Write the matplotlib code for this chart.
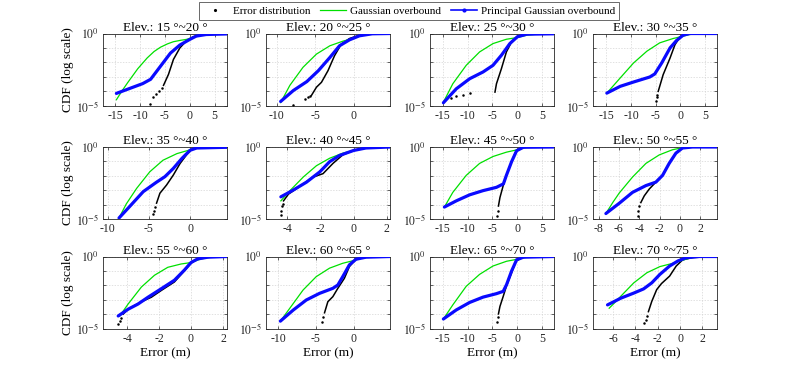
import matplotlib
matplotlib.use("Agg")
import matplotlib.pyplot as plt
import numpy as np
from matplotlib.lines import Line2D
from matplotlib.ticker import NullLocator

plt.rcParams["font.family"] = ["Liberation Serif", "DejaVu Serif"]
plt.rcParams["mathtext.fontset"] = "stix"
plt.rcParams["axes.unicode_minus"] = False

# elevation bins, one panel each
titles = ["Elev.: 15 °~20 °", "Elev.: 20 °~25 °", "Elev.: 25 °~30 °", "Elev.: 30 °~35 °",
          "Elev.: 35 °~40 °", "Elev.: 40 °~45 °", "Elev.: 45 °~50 °", "Elev.: 50 °~55 °",
          "Elev.: 55 °~60 °", "Elev.: 60 °~65 °", "Elev.: 65 °~70 °", "Elev.: 70 °~75 °"]

x_limits = [(-17.5, 7.5), (-11.4, 4.7), (-17.6, 7.4), (-17.7, 7.4),
            (-10.6, 4.5), (-5.3, 2.2), (-17.6, 7.4), (-8.55, 3.66),
            (-5.5, 2.25), (-11.6, 4.8), (-17.6, 7.4), (-7.8, 3.3)]

x_ticks = [[-15, -10, -5, 0, 5], [-10, -5, 0], [-15, -10, -5, 0, 5], [-15, -10, -5, 0, 5],
           [-10, -5, 0], [-4, -2, 0, 2], [-15, -10, -5, 0, 5], [-8, -6, -4, -2, 0, 2],
           [-4, -2, 0, 2], [-10, -5, 0], [-15, -10, -5, 0, 5], [-6, -4, -2, 0, 2]]

# principal Gaussian overbound (x in m, y = log10 CDF)
pgo_x = [
    [-14.8, -9.5, -7.9, -5.9, -3.9, -2.0, 0.0, 1.3, 3.3, 7.5],
    [-9.5, -7.85, -6.1, -4.6, -3.1, -1.85, -0.56, 0.73, 2.4, 4.7],
    [-14.9, -12.3, -9.6, -6.9, -4.9, -3.2, -1.5, 0.0, 1.9, 7.4],
    [-14.9, -12.2, -9.5, -6.2, -5.2, -3.8, -2.1, -0.8, 0.54, 1.9, 7.4],
    [-8.65, -7.35, -5.7, -4.1, -3.06, -2.04, -1.0, 0.0, 0.8, 4.5],
    [-4.4, -3.65, -2.85, -2.05, -1.45, -0.86, 0.0, 0.74, 2.2],
    [-14.7, -12.3, -9.6, -6.9, -4.2, -2.8, -2.2, -1.15, -0.14, 1.2, 7.4],
    [-7.28, -5.97, -4.66, -3.34, -2.36, -1.7, -1.05, -0.39, 0.26, 1.25, 3.66],
    [-4.55, -3.93, -3.31, -2.69, -1.86, -1.04, -0.41, 0.0, 0.41, 1.04, 2.25],
    [-9.7, -8.0, -6.27, -4.52, -2.76, -2.1, -1.45, -0.57, 0.3, 1.6, 4.8],
    [-14.9, -12.3, -9.6, -6.9, -4.2, -2.84, -2.16, -1.15, -0.14, 1.2, 7.4],
    [-6.5, -5.3, -4.15, -3.27, -2.54, -1.81, -0.94, -0.2, 0.53, 1.7, 3.3],
]
pgo_y = [
    [-4.16, -3.48, -3.18, -2.27, -1.36, -0.8, -0.41, -0.18, -0.07, -0.03],
    [-4.72, -3.96, -3.34, -2.58, -1.66, -0.85, -0.44, -0.16, -0.02, 0.0],
    [-4.81, -3.84, -3.14, -2.67, -2.21, -1.51, -0.70, -0.23, -0.05, -0.02],
    [-4.14, -3.67, -3.37, -3.02, -2.81, -2.05, -1.0, -0.49, -0.12, 0.0, 0.0],
    [-4.93, -4.13, -3.10, -2.45, -2.06, -1.49, -0.80, -0.23, -0.07, -0.02],
    [-3.46, -2.99, -2.44, -1.73, -1.02, -0.59, -0.24, -0.07, 0.0],
    [-4.17, -3.74, -3.32, -3.03, -2.80, -2.56, -1.97, -1.02, -0.26, -0.02, 0.0],
    [-4.62, -3.91, -3.15, -2.68, -2.44, -1.97, -1.14, -0.43, -0.07, 0.0, 0.0],
    [-4.13, -3.66, -3.30, -2.83, -2.24, -1.65, -0.94, -0.42, -0.17, -0.05, 0.0],
    [-4.49, -3.72, -3.02, -2.56, -2.21, -1.98, -1.40, -0.58, -0.19, -0.05, 0.0],
    [-4.34, -3.71, -3.19, -2.82, -2.58, -2.42, -1.95, -1.01, -0.23, -0.05, 0.0],
    [-3.36, -2.89, -2.54, -2.25, -1.83, -1.24, -0.66, -0.31, -0.09, 0.0, 0.0],
]

# Gaussian overbound
gauss_x = [
    [-14.8, -13.6, -12.5, -10.5, -8.6, -7.2, -5.9, -4.5, -3.3, -1.8, -0.7, 0.7, 2.6, 5.3],
    [-9.5, -8.3, -6.6, -4.85, -3.1, -1.4, -0.13, 1.16, 2.9],
    [-14.9, -13.0, -10.3, -7.6, -4.9, -2.2, 0.0, 1.9, 4.6],
    [-14.9, -12.2, -9.5, -6.8, -4.2, -1.5, 0.0, 1.9, 4.6],
    [-8.65, -7.76, -6.5, -4.9, -3.3, -1.6, -0.2, 0.8, 2.0],
    [-4.4, -3.85, -3.05, -2.25, -1.45, -0.66, 0.0, 0.74, 1.8],
    [-14.7, -13.0, -10.3, -7.6, -4.9, -2.2, 0.0, 1.9],
    [-7.28, -6.6, -5.97, -4.66, -3.34, -2.03, -0.72, 0.1, 1.25],
    [-4.45, -3.93, -3.1, -2.28, -1.45, -0.62, 0.0, 0.62, 1.24],
    [-9.7, -8.46, -6.7, -4.96, -3.2, -1.45, 0.0, 1.18, 2.9],
    [-14.9, -13.0, -10.3, -7.6, -4.9, -2.16, 0.0, 1.9],
    [-6.35, -5.9, -5.3, -4.15, -2.98, -1.81, -0.64, 0.0, 0.82, 1.7],
]
gauss_y = [
    [-4.6, -3.95, -3.4, -2.45, -1.7, -1.25, -0.95, -0.72, -0.57, -0.47, -0.41, -0.27, -0.09, -0.02],
    [-4.8, -3.6, -2.35, -1.43, -0.85, -0.53, -0.35, -0.12, -0.02],
    [-4.77, -3.49, -2.21, -1.28, -0.70, -0.40, -0.28, -0.12, -0.02],
    [-4.14, -3.09, -2.05, -1.23, -0.65, -0.35, -0.23, -0.07, 0.0],
    [-4.93, -3.95, -2.87, -1.72, -0.92, -0.46, -0.23, -0.07, -0.02],
    [-3.74, -3.03, -2.09, -1.30, -0.78, -0.43, -0.24, -0.07, 0.0],
    [-4.17, -3.15, -1.97, -1.14, -0.66, -0.36, -0.19, -0.02],
    [-4.62, -3.85, -3.2, -2.09, -1.14, -0.55, -0.19, -0.07, 0.0],
    [-4.13, -3.30, -2.12, -1.30, -0.75, -0.52, -0.42, -0.17, -0.05],
    [-4.49, -3.60, -2.33, -1.40, -0.81, -0.47, -0.28, -0.09, 0.0],
    [-4.34, -3.36, -2.07, -1.24, -0.66, -0.33, -0.19, -0.05],
    [-3.59, -3.24, -2.75, -1.83, -1.13, -0.70, -0.47, -0.31, -0.12, 0.0],
]

# empirical error distribution: dense part ...
err_x = [
    [-5.3, -4.3, -3.3, -2.0, -0.66, 0.66, 2.6, 7.5],
    [-5.5, -4.85, -4.2, -3.35, -2.5, -1.63, -0.56, 0.73, 2.4, 4.7],
    [-4.5, -4.2, -3.2, -2.2, -1.15, 0.0, 1.9, 7.4],
    [-4.5, -3.5, -2.1, -1.1, -0.13, 1.2, 7.4],
    [-4.08, -3.67, -2.86, -2.04, -1.22, -0.41, 0.2, 1.2, 4.5],
    [-4.24, -3.94, -3.25, -2.45, -1.85, -1.25, -0.66, 0.0, 0.74, 2.2],
    [-3.8, -3.5, -2.84, -2.2, -1.15, -0.27, 1.2, 7.4],
    [-3.84, -3.5, -3.0, -2.36, -1.7, -1.05, -0.39, 0.26, 1.25, 3.66],
    [-4.24, -3.93, -3.1, -2.48, -1.86, -1.04, -0.41, 0.0, 0.41, 1.04, 2.25],
    [-3.86, -3.42, -2.76, -2.1, -1.23, -0.57, 0.3, 1.6, 4.8],
    [-3.8, -3.5, -2.84, -2.16, -1.15, -0.27, 1.2, 7.4],
    [-2.84, -2.54, -2.1, -1.67, -0.94, -0.35, 0.23, 1.1, 3.3],
]
err_y = [
    [-3.6, -2.84, -1.8, -1.0, -0.5, -0.23, -0.07, -0.03],
    [-4.3, -3.73, -3.39, -2.58, -1.54, -0.74, -0.35, -0.12, -0.02, 0.0],
    [-4.07, -3.49, -2.44, -1.28, -0.58, -0.23, -0.05, -0.02],
    [-4.02, -2.86, -1.70, -0.77, -0.26, -0.02, 0.0],
    [-3.9, -3.21, -2.64, -1.95, -1.15, -0.53, -0.16, -0.04, -0.02],
    [-3.74, -3.27, -2.73, -2.09, -1.85, -1.14, -0.55, -0.24, -0.07, 0.0],
    [-4.1, -3.51, -2.68, -1.97, -1.02, -0.3, -0.02, 0.0],
    [-3.86, -3.39, -2.91, -2.44, -1.97, -1.14, -0.43, -0.07, 0.0, 0.0],
    [-4.0, -3.66, -3.14, -2.83, -2.36, -1.77, -0.99, -0.46, -0.17, -0.05, 0.0],
    [-3.91, -3.14, -2.79, -2.21, -1.51, -0.70, -0.19, -0.05, 0.0],
    [-3.99, -3.47, -2.77, -2.02, -1.13, -0.31, -0.05, 0.0],
    [-3.83, -3.12, -2.3, -1.88, -1.36, -0.66, -0.23, -0.07, 0.0],
]
# ... and the sparse tail samples
tail_x = [
    [-8.1, -7.4, -6.8, -6.2, -5.7],
    [-7.85, -6.35, -5.9, -5.7],
    [-13.3, -12.3, -10.9, -9.6],
    [-5.0, -4.8, -4.65],
    [-4.57, -4.4, -4.24],
    [-4.4, -4.38, -4.34, -4.3],
    [-4.05, -3.9],
    [-4.1, -4.07, -4.0],
    [-4.55, -4.45, -4.39],
    [-4.17, -4.08],
    [-4.05, -3.9],
    [-3.19, -3.1, -2.98],
]
tail_y = [
    [-4.9, -4.4, -4.2, -4.0, -3.8],
    [-4.95, -4.54, -4.42, -4.35],
    [-4.49, -4.37, -4.26, -4.12],
    [-4.72, -4.44, -4.25],
    [-4.66, -4.43, -4.2],
    [-4.69, -4.45, -4.1, -3.95],
    [-4.76, -4.45],
    [-4.76, -4.45, -4.1],
    [-4.72, -4.48, -4.29],
    [-4.53, -4.23],
    [-4.53, -4.23],
    [-4.6, -4.41, -4.13],
]

W, H = 793, 369
fig = plt.figure(figsize=(W / 100, H / 100), dpi=100)

col_left = [103, 266, 430, 593]
row_top = [33.5, 147, 256.5]
ax_w, ax_h = 124, 72

grid_kw = dict(color="#d4d4d4", linewidth=0.5, linestyle=(0, (2, 2)))

for i in range(12):
    r, c = divmod(i, 4)
    ax = fig.add_axes([col_left[c] / W, 1 - (row_top[r] + ax_h) / H, ax_w / W, ax_h / H])
    ax.set_yscale("log")

    ax.plot(gauss_x[i], 10.0 ** np.array(gauss_y[i]), color="#00e000", lw=0.9, zorder=3)
    ax.plot(err_x[i], 10.0 ** np.array(err_y[i]), color="k", lw=1.1, zorder=2)
    ax.plot(tail_x[i], 10.0 ** np.array(tail_y[i]), "k.", ms=1.6, zorder=2)
    ax.plot(pgo_x[i], 10.0 ** np.array(pgo_y[i]), color="#0a0aff", lw=2.3,
            solid_capstyle="round", solid_joinstyle="round", zorder=4)

    ax.set_xlim(x_limits[i])
    ax.set_ylim(1e-5, 1e0)
    ax.set_xticks(x_ticks[i])
    ax.set_xticklabels([str(t) for t in x_ticks[i]])
    ax.set_yticks([1e-5, 1e-4, 1e-3, 1e-2, 1e-1, 1e0])
    ax.set_yticklabels(["$10^{-5}$", "", "", "", "", "$10^{0}$"])
    ax.yaxis.set_minor_locator(NullLocator())
    ax.grid(True, **grid_kw)
    ax.set_axisbelow(True)
    ax.tick_params(direction="in", length=2, width=0.5, labelsize=8.5, pad=3,
                   colors="#262626", top=True, right=True, labeltop=False, labelright=False)
    for s in ax.spines.values():
        s.set_color("#262626")
        s.set_linewidth(0.6)

    ax.set_title(titles[i], fontsize=9.5, pad=2)
    if c == 0:
        ax.set_ylabel("CDF (log scale)", fontsize=9.5, labelpad=1)
    if r == 2:
        ax.set_xlabel("Error (m)", fontsize=9.5, labelpad=2)

handles = [
    Line2D([], [], color="k", marker=".", ms=2.5, ls="none"),
    Line2D([], [], color="#00e000", lw=0.9),
    Line2D([], [], color="#0a0aff", lw=1.2, marker=".", ms=4),
]
labels = ["Error distribution", "Gaussian overbound", "Principal Gaussian overbound"]
leg = fig.legend(handles, labels, loc="upper center", bbox_to_anchor=(409 / W, 1 - 2.5 / H),
                 ncol=3, fontsize=8, frameon=True, fancybox=False, borderpad=0.35,
                 handlelength=2.3, handletextpad=0.4, columnspacing=0.9, borderaxespad=0.0)
leg.get_frame().set_edgecolor("#262626")
leg.get_frame().set_linewidth(0.6)

fig.savefig("out.png", dpi=100)
